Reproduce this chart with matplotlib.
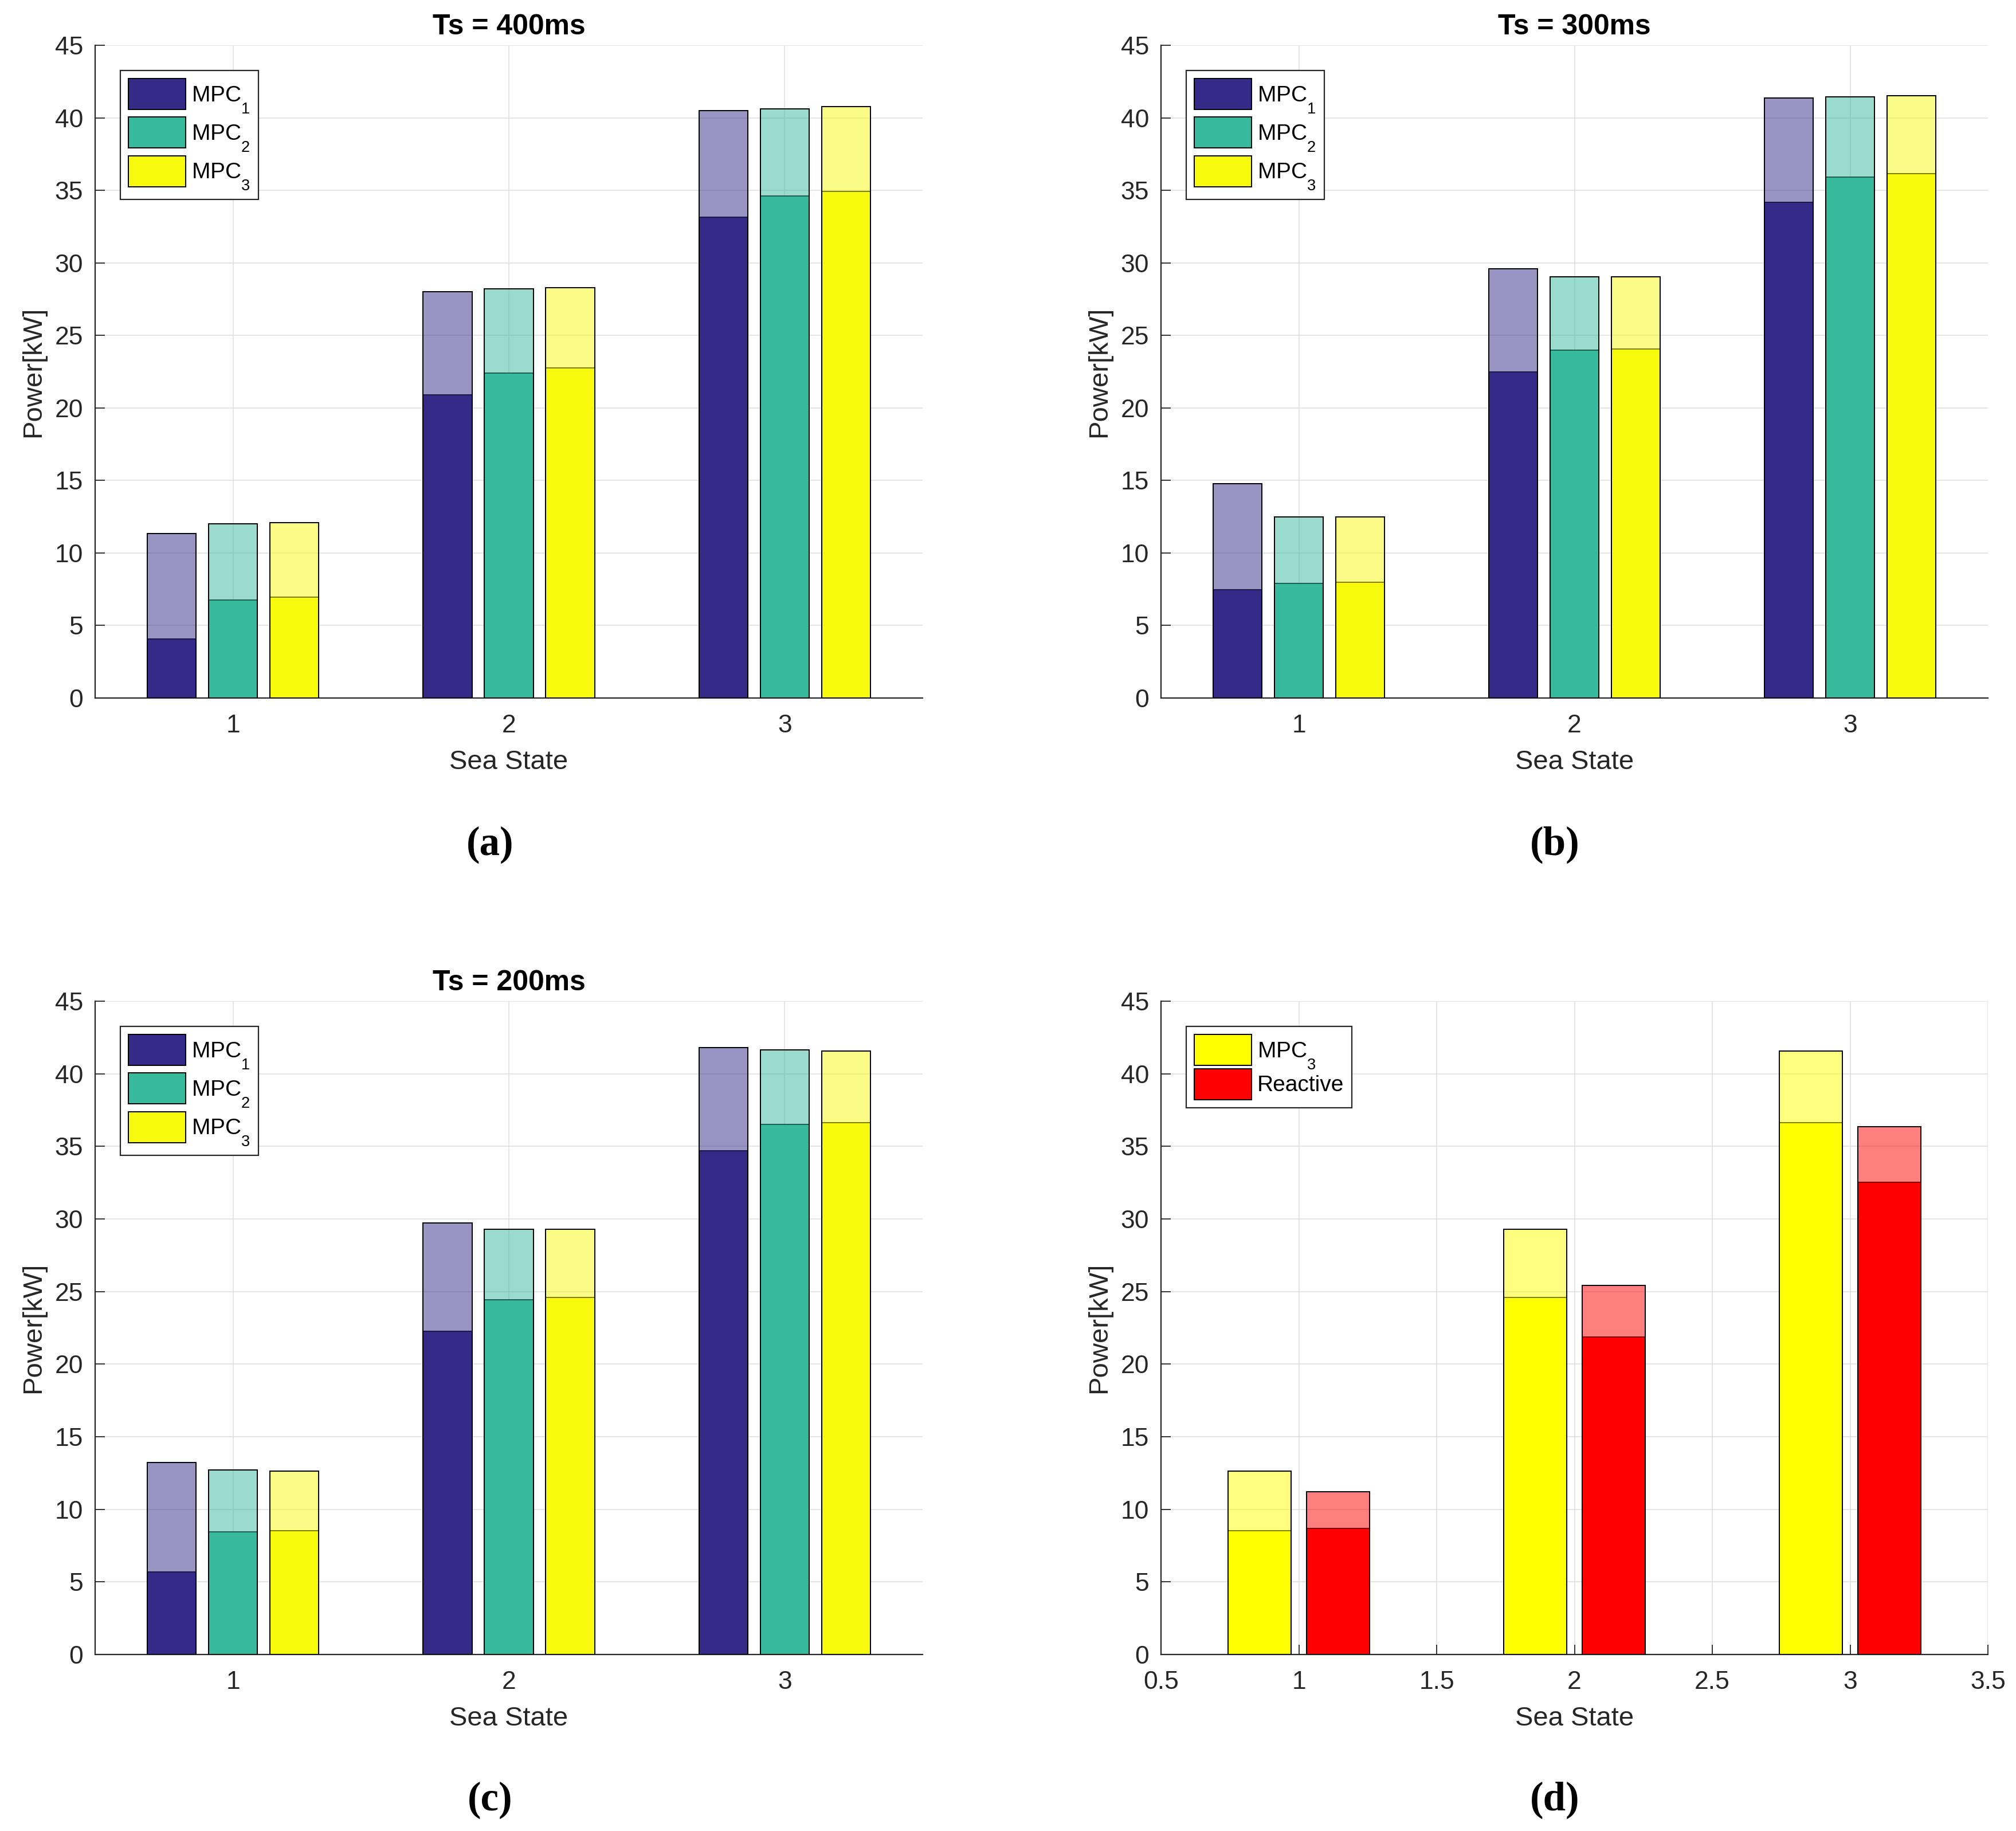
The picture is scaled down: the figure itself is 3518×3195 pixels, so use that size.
import matplotlib
matplotlib.use('Agg')
import matplotlib.pyplot as plt
import numpy as np

plt.rcParams['font.family'] = ['Liberation Sans', 'DejaVu Sans']
plt.rcParams['mathtext.default'] = 'regular'
try:
    import matplotlib._mathtext as _mt
    for _cls in [_mt.FontConstantsBase] + list(_mt.FontConstantsBase.__subclasses__()):
        _cls.subdrop = 1.0
        _cls.sub1 = 1.0
except Exception:
    pass

# ---------------- data ----------------
sea_states = [1, 2, 3]
mpc_labels = ['MPC$_1$', 'MPC$_2$', 'MPC$_3$']

# Ts = 400 ms : total (light) and solid part
a_total_mpc1 = [11.32, 28.01, 40.51]
a_total_mpc2 = [12.01, 28.21, 40.61]
a_total_mpc3 = [12.07, 28.27, 40.77]
a_solid_mpc1 = [4.06, 20.91, 33.15]
a_solid_mpc2 = [6.74, 22.41, 34.59]
a_solid_mpc3 = [6.97, 22.77, 34.92]

# Ts = 300 ms
b_total_mpc1 = [14.76, 29.61, 41.36]
b_total_mpc2 = [12.50, 29.03, 41.43]
b_total_mpc3 = [12.50, 29.03, 41.53]
b_solid_mpc1 = [7.46, 22.48, 34.16]
b_solid_mpc2 = [7.89, 23.99, 35.93]
b_solid_mpc3 = [7.98, 24.08, 36.16]

# Ts = 200 ms
c_total_mpc1 = [13.22, 29.71, 41.82]
c_total_mpc2 = [12.73, 29.29, 41.66]
c_total_mpc3 = [12.63, 29.29, 41.56]
c_solid_mpc1 = [5.69, 22.25, 34.69]
c_solid_mpc2 = [8.44, 24.44, 36.52]
c_solid_mpc3 = [8.54, 24.61, 36.62]

# MPC3 vs Reactive
d_labels = ['MPC$_3$', 'Reactive']
d_total_mpc3 = [12.63, 29.29, 41.56]
d_solid_mpc3 = [8.54, 24.61, 36.62]
d_total_reactive = [11.22, 25.43, 36.36]
d_solid_reactive = [8.67, 21.86, 32.53]

titles = ['Ts = 400ms', 'Ts = 300ms', 'Ts = 200ms', None]
panel_tags = ['(a)', '(b)', '(c)', '(d)']

mpc_colors = ['#352A87', '#37B99D', '#F8FA0D']
d_colors = ['#FFFF00', '#FF0000']

# ---------------- figure ----------------
W, H = 3518, 3195
fig = plt.figure(figsize=(W / 100, H / 100), dpi=100)

DARK = '#262626'


def add_axes(left, top, right, bottom):
    return fig.add_axes([left / W, 1 - bottom / H, (right - left) / W, (bottom - top) / H])


def style(ax, xticks, xticklabels):
    ax.set_xlim(0.5, 3.5)
    ax.set_ylim(0, 45)
    ax.set_yticks(np.arange(0, 46, 5))
    ax.set_xticks(xticks)
    ax.set_xticklabels(xticklabels)
    ax.grid(True, color='#dedede', linewidth=1.1)
    ax.set_axisbelow(True)
    for s in ['top', 'right']:
        ax.spines[s].set_visible(False)
    for s in ['left', 'bottom']:
        ax.spines[s].set_color(DARK)
        ax.spines[s].set_linewidth(1.6)
    ax.tick_params(direction='in', length=12, width=1.3, colors=DARK, labelsize=32)
    ax.tick_params(axis='x', pad=20)
    ax.tick_params(axis='y', pad=15)
    ax.set_xlabel('Sea State', fontsize=34, color=DARK)
    ax.set_ylabel('Power[kW]', fontsize=34, color=DARK)
    ax.xaxis.set_label_coords(0.5, -0.079)
    ax.yaxis.set_label_coords(-0.0596, 0.5)


def grouped(ax, totals, solids, colors, labels, labelspacing):
    n = len(totals)
    gw = min(0.8, n / (n + 1.5))
    width = 0.8 * gw / n
    x = np.array(sea_states, dtype=float)
    handles = []
    for i in range(n):
        off = (i - (n - 1) / 2) * gw / n
        h = ax.bar(x + off, solids[i], width, color=colors[i], edgecolor='black',
                   linewidth=1.4, zorder=2, label=labels[i])
        rgba = matplotlib.colors.to_rgba(colors[i], 0.5)
        ax.bar(x + off, totals[i], width, facecolor=rgba, edgecolor='black',
               linewidth=1.4, zorder=3)
        handles.append(h)
    leg = ax.legend(handles, labels, loc='upper left',
                    bbox_to_anchor=(44 / 1444, 1 - 44 / 1138), borderaxespad=0,
                    fontsize=28, fancybox=False, framealpha=1, edgecolor=DARK,
                    handlelength=2.57, handleheight=1.76, handletextpad=0.26,
                    labelspacing=labelspacing, borderpad=0.36)
    leg.get_frame().set_linewidth(1.6)
    leg.set_zorder(10)


ax_a = add_axes(166, 79, 1610, 1218)
ax_b = add_axes(2026, 79, 3469, 1218)
ax_c = add_axes(166, 1747, 1610, 2887)
ax_d = add_axes(2026, 1747, 3469, 2887)

grouped(ax_a, [a_total_mpc1, a_total_mpc2, a_total_mpc3],
        [a_solid_mpc1, a_solid_mpc2, a_solid_mpc3], mpc_colors, mpc_labels, 0.12)
grouped(ax_b, [b_total_mpc1, b_total_mpc2, b_total_mpc3],
        [b_solid_mpc1, b_solid_mpc2, b_solid_mpc3], mpc_colors, mpc_labels, 0.12)
grouped(ax_c, [c_total_mpc1, c_total_mpc2, c_total_mpc3],
        [c_solid_mpc1, c_solid_mpc2, c_solid_mpc3], mpc_colors, mpc_labels, 0.12)
grouped(ax_d, [d_total_mpc3, d_total_reactive],
        [d_solid_mpc3, d_solid_reactive], d_colors, d_labels, -0.08)

for ax in (ax_a, ax_b, ax_c):
    style(ax, sea_states, [str(s) for s in sea_states])
d_ticks = [0.5, 1, 1.5, 2, 2.5, 3, 3.5]
style(ax_d, d_ticks, ['0.5', '1', '1.5', '2', '2.5', '3', '3.5'])

for ax, t in zip((ax_a, ax_b, ax_c, ax_d), titles):
    if t:
        ax.set_title(t, fontsize=36, fontweight='bold', pad=14)

tag_pos = [(855, 1474), (2713, 1474), (855, 3141), (2713, 3141)]
for tag, (px, py) in zip(panel_tags, tag_pos):
    fig.text(px / W, 1 - py / H, tag, ha='center', va='center',
             family=['Liberation Serif', 'DejaVu Serif'], fontweight='bold', fontsize=51)

fig.savefig('out.png', dpi=100)
